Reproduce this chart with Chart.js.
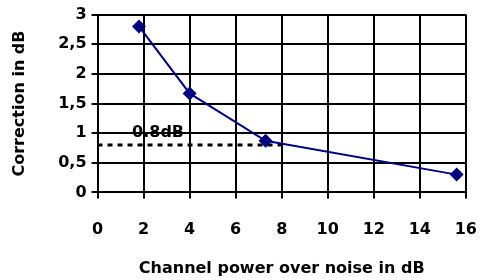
<!DOCTYPE html>
<html>
<head>
<meta charset="utf-8">
<script src="https://cdn.jsdelivr.net/npm/chart.js@4.4.1/dist/chart.umd.min.js"></script>
<style>
    html, body { margin: 0; padding: 0; background: #ffffff; }
    #wrap { width: 480px; height: 280px; }
</style>
</head>
<body>
<div id="wrap"><canvas id="correctionChart" width="480" height="280"></canvas></div>
<script>
// DATA
const powerOverNoise = [1.8, 4.0, 7.3, 15.6];
const correctionDb = [2.8, 1.67, 0.87, 0.3];

const markerLevel = 0.8;
const markerX = [0, 8];
const markerText = '0.8dB';

const yTickLabels = ['0', '0,5', '1', '1,5', '2', '2,5', '3'];
const xTickLabels = ['0', '2', '4', '6', '8', '10', '12', '14', '16'];

const boldFont = { family: 'DejaVu Sans, sans-serif', size: 16, weight: 'bold' };

// label above the dashed line
const markerLabel = {
    id: 'markerLabel',
    afterDatasetsDraw(chart) {
        const c = chart.ctx;
        const xs = chart.scales.x;
        const ys = chart.scales.y;
        c.save();
        c.font = 'bold 16px DejaVu Sans, sans-serif';
        c.fillStyle = '#000000';
        c.textAlign = 'left';
        c.textBaseline = 'alphabetic';
        c.fillText(markerText, xs.getPixelForValue(1.5), ys.getPixelForValue(0.94));
        c.restore();
    }
};

const ctx = document.getElementById('correctionChart');

new Chart(ctx, {
    type: 'scatter',

    data: {
        datasets: [
            {
                label: 'Correction',
                data: powerOverNoise.map((x, i) => ({ x: x, y: correctionDb[i] })),
                showLine: true,
                borderColor: '#000080',
                backgroundColor: '#000080',
                borderWidth: 2,
                pointStyle: 'rectRot',
                pointRadius: 7,
                pointBorderWidth: 0,
                order: 1
            },
            {
                label: 'Marker',
                data: markerX.map(x => ({ x: x, y: markerLevel })),
                showLine: true,
                borderColor: '#000000',
                borderWidth: 3,
                borderDash: [5, 5],
                pointRadius: 0,
                order: 2
            }
        ]
    },

    options: {
        responsive: false,
        animation: false,
        layout: {
            padding: { top: 0, right: 0, left: 10, bottom: 2 }
        },
        plugins: {
            legend: { display: false },
            tooltip: { enabled: false }
        },
        scales: {
            x: {
                type: 'linear',
                min: 0,
                max: 16,
                grid: {
                    color: '#000000',
                    lineWidth: 2,
                    tickLength: 6,
                    tickColor: '#000000'
                },
                border: { color: '#000000', width: 2 },
                ticks: {
                    stepSize: 2,
                    color: '#000000',
                    font: boldFont,
                    padding: 3,
                    maxRotation: 0,
                    // empty first line pushes the numbers further below the axis
                    callback: (v, i) => ['', xTickLabels[i]]
                },
                title: {
                    display: true,
                    text: 'Channel power over noise in dB',
                    color: '#000000',
                    font: boldFont,
                    padding: { top: 16, bottom: 0 }
                }
            },
            y: {
                min: 0,
                max: 3,
                grid: {
                    color: '#000000',
                    lineWidth: 2,
                    tickLength: 6,
                    tickColor: '#000000'
                },
                border: { color: '#000000', width: 2 },
                ticks: {
                    stepSize: 0.5,
                    color: '#000000',
                    font: boldFont,
                    padding: 5,
                    callback: (v, i) => yTickLabels[i]
                },
                title: {
                    display: true,
                    text: 'Correction in dB',
                    color: '#000000',
                    font: boldFont,
                    padding: { top: 0, bottom: 24 }
                }
            }
        }
    },

    plugins: [markerLabel]
});
</script>
</body>
</html>
